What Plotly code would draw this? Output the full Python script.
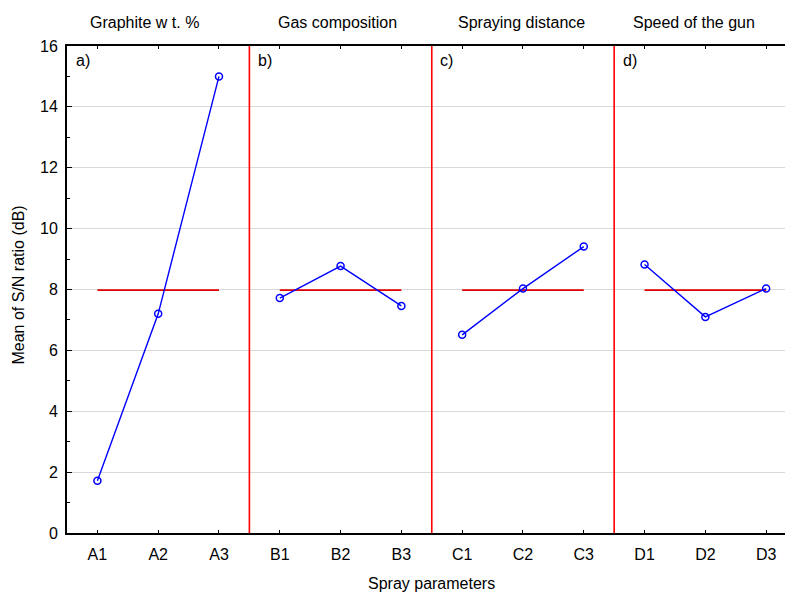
import numpy as np
import plotly.graph_objects as go

# ---- data ----
group_titles = ["Graphite w t. %", "Gas composition", "Spraying distance", "Speed of the gun"]
panel_labels = ["a)", "b)", "c)", "d)"]
tick_labels = ["A1", "A2", "A3", "B1", "B2", "B3", "C1", "C2", "C3", "D1", "D2", "D3"]
graphite = [1.72, 7.20, 15.00]
gas = [7.72, 8.77, 7.46]
distance = [6.51, 8.03, 9.41]
speed = [8.82, 7.10, 8.03]
groups = [graphite, gas, distance, speed]

overall_mean = float(np.mean(np.concatenate(groups)))

FONT = "Liberation Sans, Arial, sans-serif"
BLUE = "#0000FF"
RED = "#FF0000"

fig = go.Figure()
for g, vals in enumerate(groups):
    xs = [3 * g + i for i in range(len(vals))]
    fig.add_trace(go.Scatter(
        x=[xs[0], xs[-1]], y=[overall_mean, overall_mean], mode="lines",
        line=dict(color="#E00000", width=1.6), showlegend=False, hoverinfo="skip"))
    fig.add_trace(go.Scatter(
        x=xs, y=vals, mode="lines+markers",
        line=dict(color=BLUE, width=1.4),
        marker=dict(symbol="circle-open", size=7, color=BLUE, line=dict(width=1.5, color=BLUE)),
        showlegend=False))

# separators between groups
for g in range(1, len(groups)):
    fig.add_shape(type="line", xref="x", yref="paper", x0=3 * g - 0.5, x1=3 * g - 0.5,
                  y0=0, y1=1, line=dict(color=RED, width=1.6), layer="above")

title_x = [0.78, 3.95, 6.97, 9.81]
for g, t in enumerate(group_titles):
    fig.add_annotation(text=t, x=title_x[g], xref="x", y=1, yref="paper", yshift=24,
                       yanchor="middle", xanchor="center", showarrow=False,
                       font=dict(family=FONT, size=16, color="black"))
for g, t in enumerate(panel_labels):
    fig.add_annotation(text=t, x=3 * g - 0.5 + 0.11, xref="x", y=1, yref="paper", yshift=-14,
                       yanchor="middle", xanchor="left", showarrow=False,
                       font=dict(family=FONT, size=16, color="black"))

fig.add_annotation(text="Mean of S/N ratio (dB)", textangle=-90, xref="paper", x=0, xshift=-49,
                   yref="paper", y=0.5, yshift=4, showarrow=False, xanchor="center", yanchor="middle",
                   font=dict(family=FONT, size=16, color="black"))
fig.add_annotation(text="Spray parameters", xref="paper", x=0.508, yref="paper", y=0, yshift=-50,
                   showarrow=False, xanchor="center", yanchor="middle",
                   font=dict(family=FONT, size=16, color="black"))

fig.update_xaxes(
    range=[-0.5, 11.31], tickmode="array", tickvals=list(range(len(tick_labels))),
    ticktext=tick_labels, ticks="inside", ticklen=3, tickcolor="black", tickwidth=1,
    showline=True, linecolor="black", linewidth=2, mirror="ticks",
    showgrid=False, zeroline=False, ticklabelstandoff=6,
    tickfont=dict(family=FONT, size=16, color="black"))
fig.update_yaxes(
    range=[0, 16], tickmode="array", tickvals=list(range(0, 17, 2)),
    ticks="inside", ticklen=5, tickcolor="black", tickwidth=1,
    minor=dict(tickvals=list(range(1, 16, 2)), ticks="inside", ticklen=3, tickcolor="black", showgrid=False),
    showline=True, linecolor="black", linewidth=2, mirror=False,
    showgrid=True, gridcolor="#D9D9D9", gridwidth=1, zeroline=False, ticklabelstandoff=4,
    tickfont=dict(family=FONT, size=16, color="black"))

fig.update_layout(
    width=785, height=593, margin=dict(l=67, r=0, t=46, b=60),
    paper_bgcolor="white", plot_bgcolor="white", showlegend=False,
    font=dict(family=FONT, color="black"))

fig.write_html("out.html")
